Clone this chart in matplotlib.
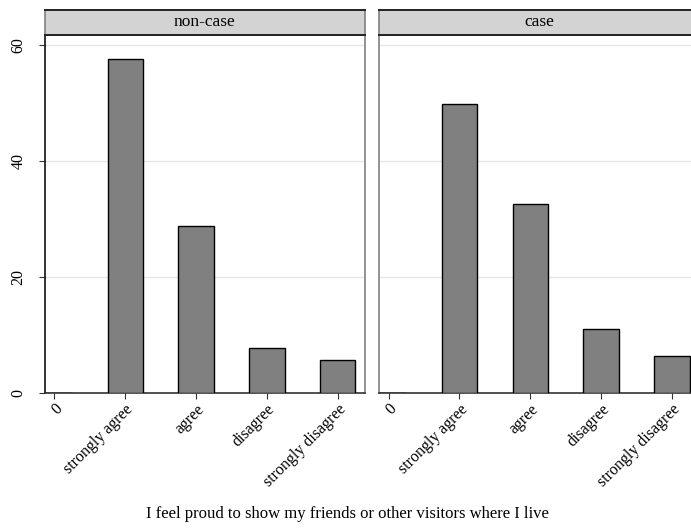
import matplotlib.pyplot as plt
from matplotlib.patches import Rectangle

# response categories and percentages per panel
categories = ["0", "strongly agree", "agree", "disagree", "strongly disagree"]
panels = ["non-case", "case"]
noncase_pct = [0, 57.6, 28.8, 7.8, 5.7]
case_pct = [0, 49.8, 32.6, 11.0, 6.4]
yticks = [0, 20, 40, 60]
xlabel = "I feel proud to show my friends or other visitors where I live"

plt.rcParams['font.family'] = ['Liberation Serif', 'DejaVu Serif']

W, H = 691, 531
fig = plt.figure(figsize=(W / 100, H / 100), dpi=100)

def px_axes(x0, y0, x1, y1):
    # pixel box (top-left origin) -> figure coords
    return fig.add_axes([x0 / W, 1 - y1 / H, (x1 - x0) / W, (y1 - y0) / H])

boxes = [(44.5, 35, 364.7, 393), (378.7, 35, 699, 393)]
xs = list(range(len(categories)))

for i, (name, vals) in enumerate(zip(panels, [noncase_pct, case_pct])):
    x0, y0, x1, y1 = boxes[i]
    ax = px_axes(x0, y0, x1, y1)
    ax.bar(xs, vals, width=0.5, color='#808080', edgecolor='black', linewidth=1.0, zorder=3)
    ax.set_xlim(-0.14, 4.38)
    ax.set_ylim(0, 61.7)
    for y in yticks[1:]:
        ax.axhline(y, color='#e6e6e6', linewidth=1.0, zorder=1)
    ax.set_xticks(xs)
    ax.set_xticklabels(categories, rotation=45, ha='right', rotation_mode='anchor', fontsize=11.5)
    ax.tick_params(axis='x', length=4, width=0.8, color='#333333', pad=2)
    for sp in ['top', 'right']:
        ax.spines[sp].set_color('#808080')
        ax.spines[sp].set_linewidth(1.2)
    ax.spines['bottom'].set_color('#333333')
    ax.spines['bottom'].set_linewidth(1.2)
    if i == 0:
        ax.spines['left'].set_color('#111111')
        ax.spines['left'].set_linewidth(1.2)
        ax.set_yticks(yticks)
        ax.set_yticklabels([str(t) for t in yticks], rotation=90, va='center', fontsize=11.5)
        ax.tick_params(axis='y', length=4, width=0.8, color='#333333', pad=9)
    else:
        ax.spines['left'].set_color('#808080')
        ax.spines['left'].set_linewidth(1.2)
        ax.set_yticks([])
    # strip on top
    sax = px_axes(x0, 10, x1, 35)
    sax.add_patch(Rectangle((0, 0), 1, 1, transform=sax.transAxes, facecolor='#d3d3d3',
                            edgecolor='none'))
    sax.set_xticks([])
    sax.set_yticks([])
    for sp in ['left', 'right']:
        sax.spines[sp].set_color('#808080')
        sax.spines[sp].set_linewidth(1.2)
    for sp in ['top', 'bottom']:
        sax.spines[sp].set_color('#222222')
        sax.spines[sp].set_linewidth(1.4)
    sax.text(0.5, 0.5, name, transform=sax.transAxes, ha='center', va='center', fontsize=12.5)

fig.text(347 / W, 1 - 514 / H, xlabel, ha='center', va='center', fontsize=12)

fig.savefig('out.png', dpi=100, facecolor='white')
